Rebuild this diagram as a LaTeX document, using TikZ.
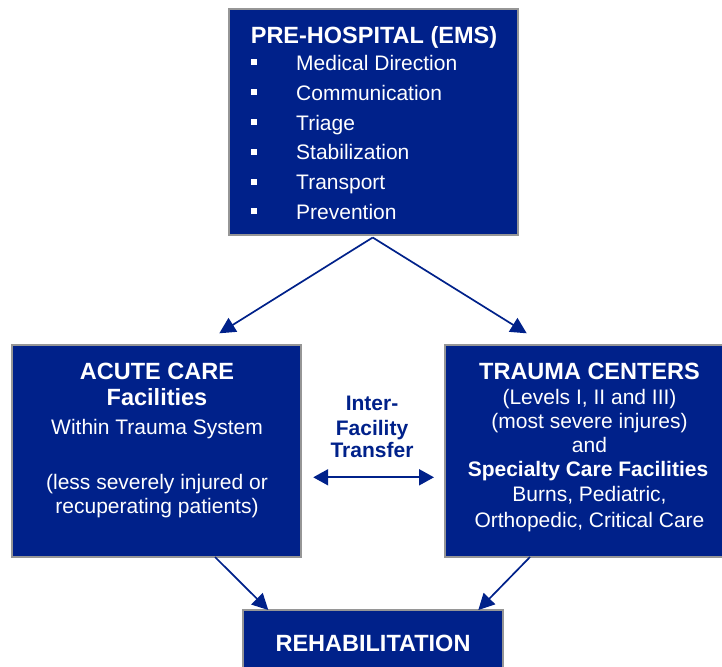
\documentclass[tikz,border=0pt]{standalone}
\usepackage{fontspec}
\setmainfont{Liberation Sans}
\usetikzlibrary{arrows.meta, positioning, calc}
\definecolor{SysBlue}{RGB}{0,33,138}
\definecolor{SysEdge}{RGB}{150,150,150}

\begin{document}
\begin{tikzpicture}[
    x=1pt, y=-1pt,
    box/.style={rectangle, draw=SysEdge, line width=2pt, fill=SysBlue},
    head/.style={text=white, inner sep=0pt, anchor=base,
                 font=\bfseries\fontsize{23.5}{28}\selectfont},
    txt/.style={text=white, inner sep=0pt, anchor=base,
                font=\fontsize{21}{25}\selectfont},
    bul/.style={rectangle, fill=white, inner sep=0pt, minimum size=6pt},
    arr/.style={-{Triangle[length=16pt,width=16pt]}, SysBlue, line width=1.7pt}
  ]
  \useasboundingbox (0,0) rectangle (722,666);

  % the four boxes
  \node[box, minimum width=289pt, minimum height=226pt] (ems) at (373.5,122.4) {};
  \node[box, minimum width=289pt, minimum height=212pt] (acute) at (156.7,450.8) {};
  \node[box, minimum width=280pt, minimum height=212pt] (trauma) at (585,450.8) {};
  \node[box, minimum width=260pt, minimum height=70pt] (rehab) at (372.7,645) {};

  % pre-hospital
  \node[head] (emsT) at (374,43.3) {PRE-HOSPITAL (EMS)};
  \node[bul] (b1) at (254,62.5) {};
  \node[bul] (b2) at (254,92.2) {};
  \node[bul] (b3) at (254,122) {};
  \node[bul] (b4) at (254,151.7) {};
  \node[bul] (b5) at (254,181.5) {};
  \node[bul] (b6) at (254,211.2) {};
  \node[txt, anchor=base west] (e1) at (296,70.5) {Medical Direction};
  \node[txt, anchor=base west] (e2) at (296,100.2) {Communication};
  \node[txt, anchor=base west] (e3) at (296,130) {Triage};
  \node[txt, anchor=base west] (e4) at (296,159.7) {Stabilization};
  \node[txt, anchor=base west] (e5) at (296,189.5) {Transport};
  \node[txt, anchor=base west] (e6) at (296,219.2) {Prevention};

  % acute care
  \node[head] (a1) at (157,379) {ACUTE CARE};
  \node[head] (a2) at (157,405.7) {Facilities};
  \node[txt] (a3) at (157,434) {Within Trauma System};
  \node[txt] (a4) at (157,489.3) {(less severely injured or};
  \node[txt] (a5) at (157,513.3) {recuperating patients)};

  % trauma centers
  \node[head] (t1) at (589.5,379) {TRAUMA CENTERS};
  \node[txt] (t2) at (589.5,404) {(Levels I, II and III)};
  \node[txt] (t3) at (589.5,428.3) {(most severe injures)};
  \node[txt] (t4) at (589.5,452.3) {and};
  \node[txt, font=\bfseries\fontsize{21}{25}\selectfont] (t5) at (588,476.7) {Specialty Care Facilities};
  \node[txt] (t6) at (589.5,501.7) {Burns, Pediatric,};
  \node[txt] (t7) at (589.5,527.7) {Orthopedic, Critical Care};

  % rehabilitation
  \node[head] (r1) at (373,651) {REHABILITATION};

  % transfer label
  \node[txt, text=SysBlue, font=\bfseries\fontsize{21}{25}\selectfont] (x1) at (372,410) {Inter-};
  \node[txt, text=SysBlue, font=\bfseries\fontsize{21}{25}\selectfont] (x2) at (372,435) {Facility};
  \node[txt, text=SysBlue, font=\bfseries\fontsize{21}{25}\selectfont] (x3) at (372,457.3) {Transfer};

  % arrow ends
  \coordinate (split) at (372.7,237.5);
  \coordinate (toAcute) at (219.3,333.3);
  \coordinate (toTrauma) at (526.7,333.3);
  \coordinate (fromAcute) at (215,557);
  \coordinate (fromTrauma) at (530,557);
  \coordinate (inL) at (268.3,610);
  \coordinate (inR) at (478.3,610);

  \draw[arr] (split) -- (toAcute);
  \draw[arr] (split) -- (toTrauma);
  \draw[arr] (fromAcute) -- (inL);
  \draw[arr] (fromTrauma) -- (inR);
  \draw[arr, line width=2pt,
        {Triangle[length=15pt,width=16pt]}-{Triangle[length=15pt,width=16pt]},
        shorten <=11pt, shorten >=10pt]
    ([yshift=-26.5pt]acute.east) -- ([yshift=-26.5pt]trauma.west);
\end{tikzpicture}
\end{document}
